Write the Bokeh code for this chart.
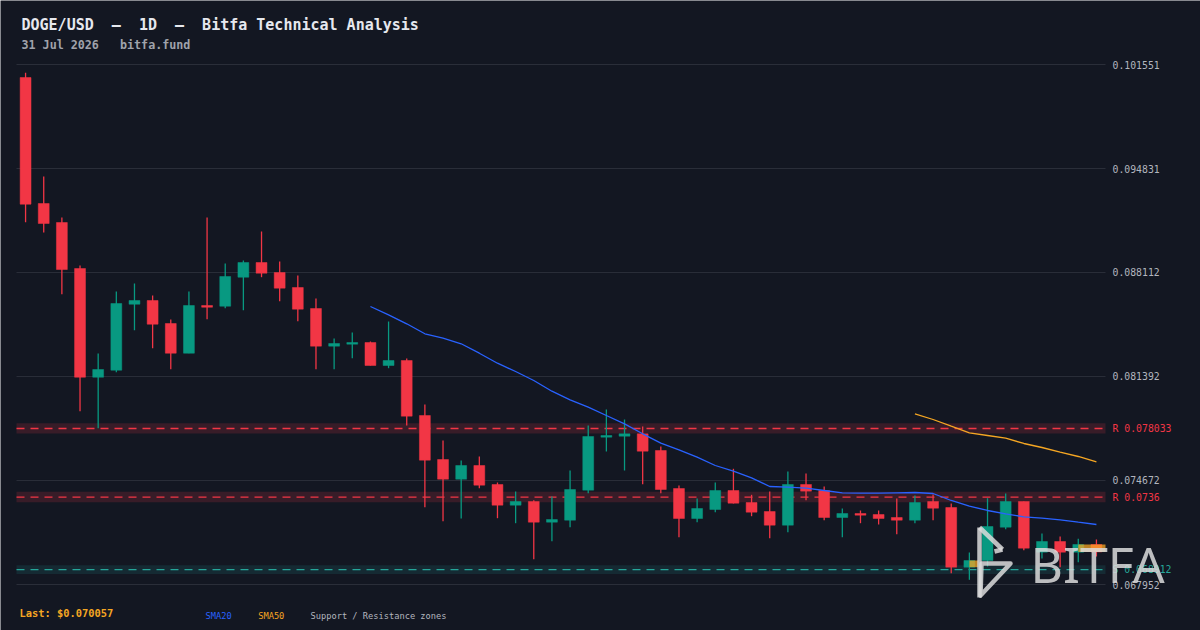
from bokeh.plotting import figure
from bokeh.models import Label, PolyAnnotation, ColumnDataSource
from bokeh.core.properties import value
from bokeh.embed import file_html
from bokeh.resources import INLINE

# ---------------- data ----------------
opens = [0.100711, 0.092570, 0.091342, 0.088370, 0.081346, 0.081799, 0.086063, 0.086302, 0.084816, 0.082897,
         0.085979, 0.085934, 0.087808, 0.088758, 0.088111, 0.087142, 0.085785, 0.083350, 0.083479, 0.083589,
         0.082102, 0.082426, 0.078872, 0.076029, 0.074756, 0.075641, 0.074414, 0.073076, 0.073315, 0.071978,
         0.072107, 0.074045, 0.077470, 0.077534, 0.077689, 0.076610, 0.074155, 0.072217, 0.072798, 0.074026,
         0.073251, 0.072669, 0.071784, 0.074414, 0.074026, 0.072281, 0.072540, 0.072475, 0.072281, 0.072107,
         0.073315, 0.072927, 0.069070, 0.069503, 0.071654, 0.073315, 0.070039, 0.070731, 0.070039, 0.070537]
closes = [0.092525, 0.091278, 0.088305, 0.081346, 0.081844, 0.086108, 0.086302, 0.084771, 0.082897, 0.085979,
          0.085869, 0.087853, 0.088758, 0.088066, 0.087097, 0.085740, 0.083350, 0.083524, 0.083589, 0.082102,
          0.082426, 0.078827, 0.075984, 0.074756, 0.075641, 0.074368, 0.073076, 0.073315, 0.071978, 0.072152,
          0.074090, 0.077515, 0.077580, 0.077689, 0.076565, 0.074090, 0.072217, 0.072863, 0.074026, 0.073205,
          0.072624, 0.071784, 0.074414, 0.073981, 0.072281, 0.072540, 0.072430, 0.072217, 0.072107, 0.073251,
          0.072882, 0.069070, 0.069503, 0.071700, 0.073315, 0.070298, 0.070731, 0.070039, 0.070537, 0.070057]
highs = [0.101015, 0.094314, 0.091665, 0.088564, 0.082878, 0.086884, 0.087401, 0.086625, 0.085075, 0.086884,
         0.091665, 0.088693, 0.088887, 0.090761, 0.088822, 0.087918, 0.086432, 0.083847, 0.084235, 0.083653,
         0.084945, 0.082555, 0.079583, 0.077257, 0.075964, 0.076223, 0.074543, 0.073961, 0.073399, 0.073638,
         0.075318, 0.078226, 0.079260, 0.078613, 0.078161, 0.076869, 0.074349, 0.073509, 0.074543, 0.075428,
         0.073748, 0.073961, 0.075254, 0.075124, 0.074284, 0.072863, 0.072734, 0.072734, 0.073509, 0.073703,
         0.073767, 0.073186, 0.070020, 0.073528, 0.073832, 0.073315, 0.071247, 0.071054, 0.070905, 0.070860]
lows = [0.091362, 0.090696, 0.086709, 0.079150, 0.078051, 0.081670, 0.084383, 0.083220, 0.081863, 0.082897,
        0.085094, 0.085805, 0.085676, 0.087808, 0.086257, 0.084965, 0.081863, 0.081863, 0.082574, 0.082102,
        0.081928, 0.078226, 0.072947, 0.072042, 0.072217, 0.074174, 0.072236, 0.071913, 0.069587, 0.070750,
        0.071654, 0.073851, 0.076546, 0.075318, 0.074433, 0.073851, 0.071008, 0.071978, 0.072624, 0.073186,
        0.072365, 0.070944, 0.071331, 0.073399, 0.072107, 0.071008, 0.071913, 0.071829, 0.071202, 0.071913,
        0.072107, 0.068682, 0.068256, 0.069115, 0.071526, 0.070168, 0.069632, 0.069070, 0.069393, 0.069761]

sma20_start = 19
sma20 = [0.085915, 0.085378, 0.084797, 0.084151, 0.083866, 0.083505, 0.082897, 0.082251, 0.081715, 0.081133,
         0.080442, 0.079886, 0.079408, 0.078872, 0.078335, 0.077689, 0.077082, 0.076655, 0.076177, 0.075641,
         0.075273, 0.074846, 0.074284, 0.074239, 0.074174, 0.074026, 0.073877, 0.073851, 0.073851, 0.073877,
         0.073897, 0.073832, 0.073380, 0.073011, 0.072734, 0.072520, 0.072327, 0.072236, 0.072132, 0.071978,
         0.071829]
sma50_start = 49
sma50 = [0.078982, 0.078613, 0.078180, 0.077754, 0.077580, 0.077405, 0.077063, 0.076804, 0.076501, 0.076223,
         0.075880]

price_ticks = [0.067952, 0.074672, 0.081392, 0.088112, 0.094831, 0.101551]
tick_labels = ["0.067952", "0.074672", "0.081392", "0.088112", "0.094831", "0.101551"]

zone_kinds = ["R", "R", "S"]
zone_levels = [0.078033, 0.0736, 0.068912]
zone_labels = ["R 0.078033", "R 0.0736", "S 0.068912"]
zone_lows = [0.077703, 0.073260, 0.068630]
zone_highs = [0.078363, 0.073940, 0.069194]

# highlighted body segments
hl_starts = [52, 58]
hl_ends = [52.5, 59.5]
hl_lows = [0.069070, 0.070057]
hl_highs = [0.069503, 0.070537]

title_text = "DOGE/USD  \u2013  1D  \u2013  Bitfa Technical Analysis"
subtitle_text = "31 Jul 2026   bitfa.fund"
last_text = "Last: $0.070057"
legend_texts = ["SMA20", "SMA50", "Support / Resistance zones"]

# ---------------- layout (pixels) ----------------
W, H = 1200, 630
PLOT_L, PLOT_R = 16, 1105      # pixel edges of the price area
PLOT_T, PLOT_B = 64, 584       # pixels of the top / bottom price ticks

n = len(opens)
x_lo, x_hi = -0.5, n - 0.5
ppu = (PLOT_R - PLOT_L) / (x_hi - x_lo)
x_start = x_lo - PLOT_L / ppu
x_end = x_hi + (W - PLOT_R) / ppu
ppp = (price_ticks[-1] - price_ticks[0]) / (PLOT_B - PLOT_T)
y_end = price_ticks[-1] + PLOT_T * ppp
y_start = price_ticks[0] - (H - PLOT_B) * ppp

# ---------------- style ----------------
BG = "#131722"
GRID = "#2a2e39"
UP = "#089981"
DOWN = "#f23645"
TEAL = "#26a69a"
BLUE = "#2962ff"
ORANGE = "#f5a623"
MONO = "DejaVu Sans Mono"

xs = list(range(n))
colors = [UP if c >= o else DOWN for o, c in zip(opens, closes)]
src = ColumnDataSource(dict(
    x=xs, high=highs, low=lows,
    top=[max(o, c) for o, c in zip(opens, closes)],
    bottom=[min(o, c) for o, c in zip(opens, closes)],
    color=colors))

p = figure(width=W, height=H, x_range=(x_start, x_end), y_range=(y_start, y_end),
           x_axis_location=None, y_axis_location=None, output_backend="svg", toolbar_location=None,
           min_border=0)
p.background_fill_color = BG
p.border_fill_color = BG
p.outline_line_color = None
p.grid.visible = False

# grid lines + price labels
p.segment(x0=[x_lo] * len(price_ticks), x1=[x_hi] * len(price_ticks), y0=price_ticks, y1=price_ticks,
          line_color=GRID, line_width=1)
p.text(x=[x_hi] * len(price_ticks), y=price_ticks, text=tick_labels, x_offset=7,
       text_color="#b2b5be", text_font=value(MONO), text_font_size="9.8px", text_baseline="middle")

# zones
zcol = [DOWN if k == "R" else TEAL for k in zone_kinds]
zalpha = [0.17 if k == "R" else 0.14 for k in zone_kinds]
p.quad(left=[x_lo] * 3, right=[x_hi] * 3, bottom=zone_lows, top=zone_highs, fill_color=zcol,
       fill_alpha=zalpha, line_alpha=0)
for lvl, col in zip(zone_levels, zcol):
    p.segment(x0=[x_lo], x1=[x_hi], y0=[lvl], y1=[lvl], line_color=col, line_width=1.4, line_dash="8 6")
p.text(x=[x_hi] * 3, y=zone_levels, text=zone_labels, x_offset=7, text_color=zcol,
       text_font=value(MONO), text_font_size="9.8px", text_baseline="middle")

# candles
p.segment(x0="x", y0="high", x1="x", y1="low", source=src, line_color="color", line_width=1.3)
p.vbar(x="x", top="top", bottom="bottom", width=0.6, source=src, fill_color="color", line_color="color",
       line_width=0.5)

# highlight bars
p.quad(left=hl_starts, right=hl_ends, bottom=hl_lows, top=hl_highs, fill_color=ORANGE, fill_alpha=0.75,
       line_alpha=0)

# moving averages
p.line(list(range(sma20_start, sma20_start + len(sma20))), sma20, line_color=BLUE, line_width=1.3)
p.line(list(range(sma50_start, sma50_start + len(sma50))), sma50, line_color=ORANGE, line_width=1.3)

# header / footer texts (screen units from bottom-left; y given as the text's vertical centre from top)
def lab(text, x, y_mid, color, size, bold=False, font=MONO, alpha=1.0):
    p.add_layout(Label(x=x, y=H - y_mid, x_units="screen", y_units="screen",
                       text=text.replace(" ", "\u00a0"),
                       text_color=color, text_alpha=alpha, text_font=font, text_font_size=size,
                       text_font_style="bold" if bold else "normal", text_baseline="middle"))

lab(title_text, 21, 24.2, "#e6e8ee", "15px", bold=True)
lab(subtitle_text, 21, 44.8, "#a0a3ab", "11.7px", bold=True)
lab(last_text, 19, 612.8, ORANGE, "10.4px", bold=True)
for t, xx, col in zip(legend_texts, [205, 257.7, 310], [BLUE, ORANGE, "#b2b5be"]):
    lab(t, xx, 615, col, "8.7px")

# watermark logo
LOGO = "#dcdcdc"
for shape in [[(979, 527), (979, 597)], [(979, 527), (1002, 549)], [(1002, 549), (994, 551)],
              [(981, 563), (1010, 563), (980, 595)]]:
    p.add_layout(PolyAnnotation(xs=[q[0] for q in shape], ys=[H - q[1] for q in shape],
                                xs_units="screen", ys_units="screen", fill_alpha=0,
                                line_color=LOGO, line_width=4.5, line_alpha=0.85, line_join="round"))
lab("BITFA", 1030, 563.3, LOGO, "50px", font="Noto Sans", alpha=0.85)

open("out.html", "w").write(file_html(p, INLINE))
